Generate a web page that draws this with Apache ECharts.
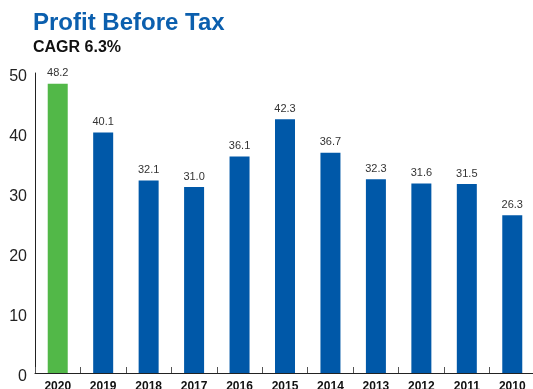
<!DOCTYPE html>
<html>
<head>
<meta charset="utf-8">
<script src="https://cdn.jsdelivr.net/npm/echarts@6/dist/echarts.min.js"></script>
<style>
  html, body { margin: 0; padding: 0; background: #fff; }
  #chart { width: 533px; height: 389px; }
</style>
</head>
<body>
<div id="chart"></div>
<script>
// Profit before tax by year, most recent first
const years = ['2020', '2019', '2018', '2017', '2016', '2015', '2014', '2013', '2012', '2011', '2010'];
const profit = [48.2, 40.1, 32.1, 31.0, 36.1, 42.3, 36.7, 32.3, 31.6, 31.5, 26.3];
const yTicks = [0, 10, 20, 30, 40, 50];

const GREEN = '#52b848';
const BLUE = '#0058a8';

const chart = echarts.init(document.getElementById('chart'), null, { renderer: 'canvas' });

chart.setOption({
  animation: false,
  textStyle: { fontFamily: 'Liberation Sans, Arial, sans-serif' },
  title: [
    {
      text: 'Profit Before Tax',
      left: 28, top: 6,
      textStyle: { color: '#0b5fae', fontSize: 24, fontWeight: 'bold', fontFamily: 'Liberation Sans, Arial, sans-serif' }
    },
    {
      text: 'CAGR 6.3%',
      left: 28, top: 35,
      textStyle: { color: '#111', fontSize: 16, fontWeight: 'bold', fontFamily: 'Liberation Sans, Arial, sans-serif' }
    }
  ],
  grid: { left: 35, right: -2, top: 73, bottom: 16, containLabel: false, outerBoundsMode: 'none' },
  xAxis: {
    type: 'category',
    data: years,
    axisLine: { lineStyle: { color: '#222', width: 1 } },
    axisTick: { show: true, inside: true, length: 6, lineStyle: { color: '#555' } },
    axisLabel: { color: '#111', fontSize: 12, fontWeight: 'bold', margin: 8, interval: 0 },
    splitLine: { show: false }
  },
  yAxis: {
    type: 'value',
    min: yTicks[0],
    max: yTicks[yTicks.length - 1],
    interval: 10,
    axisLine: { show: true, lineStyle: { color: '#222', width: 1 } },
    axisTick: { show: false },
    splitLine: { show: false },
    axisLabel: {
      color: '#222', fontSize: 16, margin: 8,
      verticalAlign: 'top', lineHeight: 8
    }
  },
  series: [{
    type: 'bar',
    data: profit.map((v, i) => ({ value: v, itemStyle: { color: i === 0 ? GREEN : BLUE } })),
    barWidth: 20,
    label: {
      show: true,
      position: 'top',
      distance: 5,
      color: '#333',
      fontSize: 11,
      formatter: p => p.value.toFixed(1)
    }
  }]
});
</script>
</body>
</html>
